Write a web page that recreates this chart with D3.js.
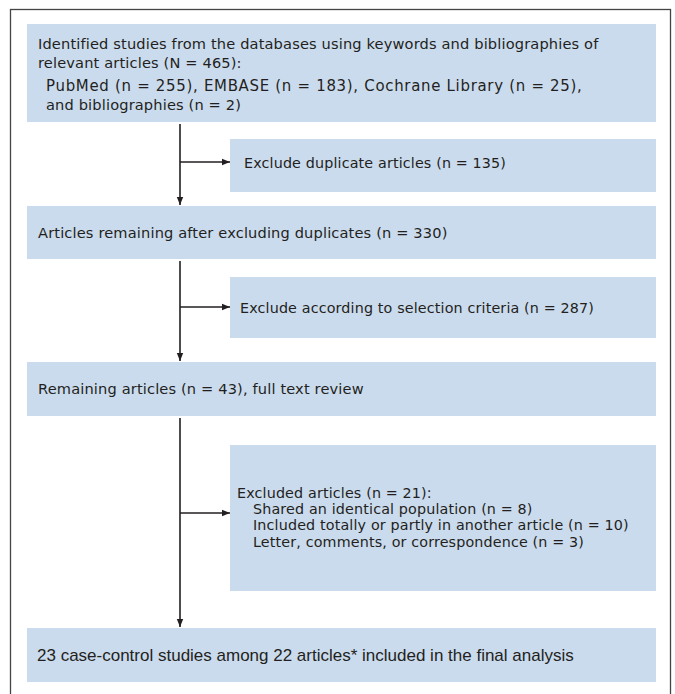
<!DOCTYPE html>
<html>
<head>
<meta charset="utf-8">
<script src="https://cdn.jsdelivr.net/npm/d3@7"></script>
<style>
  html, body { margin: 0; padding: 0; background: #fff; }
  svg { display: block; }
</style>
</head>
<body>
<script>
// Flow steps (main column) and exclusions (side column)
const mainSteps = [
  ['Identified studies from the databases using keywords and bibliographies of',
   'relevant articles (N = 465):',
   '  PubMed (n = 255), EMBASE (n = 183), Cochrane Library (n = 25),',
   '  and bibliographies (n = 2)'],
  ['Articles remaining after excluding duplicates (n = 330)'],
  ['Remaining articles (n = 43), full text review'],
  ['23 case-control studies among 22 articles* included in the final analysis']
]
const sideSteps = [
  ['Exclude duplicate articles (n = 135)'],
  ['Exclude according to selection criteria (n = 287)'],
  ['Excluded articles (n = 21):',
   '  Shared an identical population (n = 8)',
   '  Included totally or partly in another article (n = 10)',
   '  Letter, comments, or correspondence (n = 3)']
]

const W = 675, H = 694
const fill = '#cbdbee', ink = '#231f20'

// layout: [top, bottom] of each box
const mainY = [[24, 122], [206, 259], [362, 416], [628, 682]]
const sideY = [[139, 192], [277, 338], [445, 591]]
const arrowY = [162, 307, 513]
const mainX = [27, 656], sideX = [230, 656], stemX = 180

const svg = d3.select('body').append('svg')
  .attr('width', W).attr('height', H)

svg.append('defs').append('marker')
  .attr('id', 'head').attr('viewBox', '0 0 10 10')
  .attr('refX', 10).attr('refY', 5)
  .attr('markerWidth', 8).attr('markerHeight', 8)
  .attr('markerUnits', 'userSpaceOnUse')
  .attr('orient', 'auto')
  .append('path').attr('d', 'M0,1 L10,5 L0,9 Z').attr('fill', ink)

// outer frame
svg.append('rect')
  .attr('x', 10.5).attr('y', 9.5).attr('width', 660).attr('height', 700)
  .attr('fill', 'none').attr('stroke', '#444').attr('stroke-width', 1.3)

function drawBox(lines, x0, x1, y0, y1, opts) {
  svg.append('rect')
    .attr('x', x0).attr('y', y0).attr('width', x1 - x0).attr('height', y1 - y0)
    .attr('fill', fill)

  // line offsets, with a little extra room where an indented block starts
  let offs = [], acc = 0
  lines.forEach((l, i) => {
    if (i > 0) {
      acc += opts.lh
      if (opts.para && l.startsWith('  ') && !lines[i - 1].startsWith('  ')) acc += opts.para
    }
    offs.push(acc)
  })
  let first = (y0 + y1) / 2 + opts.shift - acc / 2

  let t = svg.append('text')
    .style('font-family', opts.font)
    .style('font-size', opts.size + 'px')
    .style('letter-spacing', opts.ls + 'px')
    .attr('fill', ink)
  lines.forEach((l, i) => {
    let indent = l.startsWith('  ')
    let ts = t.append('tspan')
      .attr('x', x0 + opts.pad + (indent ? opts.indent : 0))
      .attr('y', first + offs[i] + opts.size * 0.36)
      .text(l.trim())
    if (opts.wide && opts.wide.includes(i)) {
      ts.style('font-size', (opts.size * 1.025) + 'px').style('letter-spacing', '0.7px')
    }
  })
}

const base = {font: 'DejaVu Sans, sans-serif', size: 14.6, ls: 0.15, pad: 11, indent: 8, lh: 19, shift: 0}
const side = {...base, size: 14.3}

drawBox(mainSteps[0], mainX[0], mainX[1], mainY[0][0], mainY[0][1],
  {...base, lh: 18.5, para: 5, shift: 1, wide: [2]})
drawBox(mainSteps[1], mainX[0], mainX[1], mainY[1][0], mainY[1][1], {...base})
drawBox(mainSteps[2], mainX[0], mainX[1], mainY[2][0], mainY[2][1], {...base})
drawBox(mainSteps[3], mainX[0], mainX[1], mainY[3][0], mainY[3][1],
  {...base, font: 'Liberation Sans Narrow, Arial Narrow, sans-serif', size: 17, ls: 0, pad: 10})

drawBox(sideSteps[0], sideX[0], sideX[1], sideY[0][0], sideY[0][1], {...side, pad: 14, shift: -3})
drawBox(sideSteps[1], sideX[0], sideX[1], sideY[1][0], sideY[1][1], {...side, pad: 10})
drawBox(sideSteps[2], sideX[0], sideX[1], sideY[2][0], sideY[2][1],
  {...side, pad: 7, indent: 16, lh: 16.3, shift: -1})

// stems with arrows
for (let i = 0; i < 3; i++) {
  svg.append('line')
    .attr('x1', stemX).attr('x2', stemX)
    .attr('y1', mainY[i][1] + 2).attr('y2', mainY[i + 1][0] - 1)
    .attr('stroke', ink).attr('stroke-width', 1.6)
    .attr('marker-end', 'url(#head)')
  svg.append('line')
    .attr('x1', stemX).attr('x2', sideX[0])
    .attr('y1', arrowY[i]).attr('y2', arrowY[i])
    .attr('stroke', ink).attr('stroke-width', 1.6)
    .attr('marker-end', 'url(#head)')
}
</script>
</body>
</html>
